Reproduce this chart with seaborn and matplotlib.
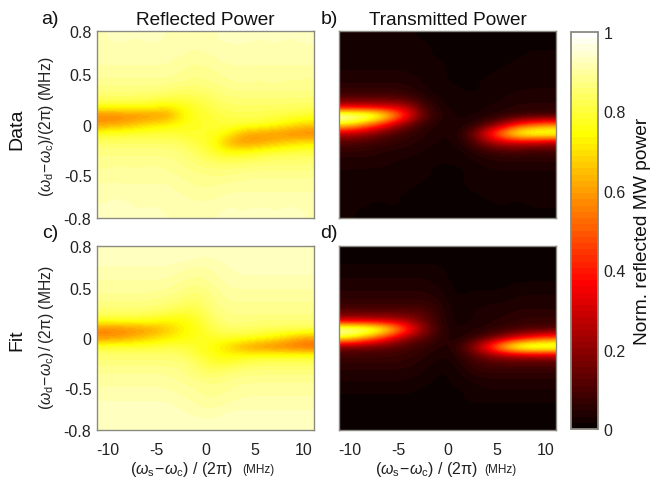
import numpy as np
import pandas as pd
import matplotlib
matplotlib.use("Agg")
import matplotlib.pyplot as plt
import seaborn as sns

sns.set_theme(style="white")
plt.rcParams['font.family'] = ['Liberation Sans', 'DejaVu Sans']
plt.rcParams['mathtext.fontset'] = 'custom'
plt.rcParams['mathtext.rm'] = 'Liberation Sans'
plt.rcParams['mathtext.it'] = 'Liberation Sans:italic'
plt.rcParams['mathtext.bf'] = 'Liberation Sans:bold'

# detuning of each column centre (MHz) and of each row centre (MHz)
x_centres = [-10.3, -8.7, -7.1, -5.55, -3.96, -2.38, -0.79, 0.79, 2.38, 3.96, 5.55, 7.1, 8.7, 10.3]
y_centres = [0.886, 0.797, 0.709, 0.620, 0.531, 0.443, 0.354, 0.266, 0.177, 0.089, 0.0,
             -0.089, -0.177, -0.266, -0.354, -0.443, -0.531, -0.620, -0.709, -0.797, -0.886]

# values in percent of the normalised power
refl_data = [
    [92, 93, 92, 93, 92, 92, 91, 92, 93, 93, 92, 93, 92, 93],
    [92, 92, 92, 92, 92, 91, 91, 92, 92, 92, 92, 92, 92, 92],
    [91, 92, 91, 92, 91, 91, 90, 91, 92, 92, 92, 91, 92, 92],
    [91, 91, 91, 91, 91, 90, 89, 90, 91, 91, 91, 91, 91, 91],
    [90, 90, 90, 90, 90, 89, 88, 89, 90, 90, 90, 90, 90, 90],
    [89, 89, 89, 89, 89, 88, 87, 88, 89, 90, 89, 90, 89, 89],
    [87, 87, 87, 87, 86, 85, 85, 86, 88, 88, 88, 88, 88, 88],
    [84, 84, 84, 83, 82, 81, 82, 84, 86, 86, 86, 86, 86, 86],
    [77, 77, 77, 76, 72, 76, 79, 82, 84, 84, 84, 84, 84, 83],
    [55, 55, 56, 58, 58, 72, 78, 80, 82, 82, 82, 81, 80, 79],
    [60, 62, 66, 70, 73, 76, 78, 79, 80, 80, 79, 76, 72, 68],
    [78, 79, 80, 80, 80, 79, 78, 78, 74, 62, 60, 58, 56, 54],
    [84, 84, 84, 84, 84, 83, 80, 77, 62, 58, 60, 64, 68, 70],
    [87, 87, 87, 87, 87, 86, 83, 78, 74, 74, 77, 79, 80, 81],
    [88, 88, 88, 88, 88, 87, 85, 83, 82, 83, 84, 85, 85, 85],
    [89, 90, 89, 90, 89, 88, 87, 86, 86, 87, 87, 87, 87, 87],
    [90, 90, 90, 90, 90, 89, 88, 88, 88, 89, 89, 89, 89, 89],
    [91, 91, 91, 91, 91, 90, 89, 89, 90, 90, 90, 90, 90, 90],
    [92, 92, 91, 92, 91, 91, 90, 90, 91, 91, 91, 91, 91, 91],
    [92, 93, 92, 92, 92, 91, 91, 91, 92, 92, 92, 92, 92, 92],
    [93, 93, 92, 93, 92, 92, 91, 92, 93, 92, 93, 92, 93, 92],
]
trans_data = [
    [2, 2, 2, 2, 2, 1, 1, 1, 1, 1, 1, 1, 1, 1],
    [2, 2, 2, 2, 2, 2, 1, 1, 1, 1, 1, 1, 1, 1],
    [2, 3, 3, 3, 2, 2, 1, 1, 1, 1, 1, 1, 2, 2],
    [3, 3, 3, 3, 3, 2, 2, 1, 1, 1, 1, 2, 2, 2],
    [3, 3, 3, 3, 3, 2, 2, 1, 1, 1, 2, 2, 2, 2],
    [4, 4, 4, 4, 4, 3, 2, 1, 1, 2, 2, 2, 3, 3],
    [6, 6, 6, 6, 5, 3, 2, 2, 1, 2, 2, 3, 3, 3],
    [11, 11, 11, 11, 9, 5, 3, 2, 2, 2, 3, 4, 4, 4],
    [30, 30, 29, 29, 24, 9, 4, 2, 2, 3, 4, 5, 5, 5],
    [99, 96, 88, 66, 38, 13, 5, 3, 3, 4, 5, 7, 7, 8],
    [72, 60, 45, 28, 14, 6, 4, 3, 4, 10, 22, 40, 50, 55],
    [26, 22, 16, 10, 7, 5, 3, 3, 12, 36, 62, 82, 88, 88],
    [11, 10, 8, 7, 5, 4, 3, 3, 8, 20, 28, 30, 28, 25],
    [6, 6, 5, 4, 4, 3, 2, 2, 4, 7, 9, 9, 8, 8],
    [4, 4, 4, 3, 3, 2, 2, 2, 3, 4, 5, 5, 5, 5],
    [3, 3, 3, 3, 2, 2, 1, 1, 2, 3, 3, 3, 3, 3],
    [3, 3, 2, 2, 2, 2, 1, 1, 2, 2, 3, 3, 3, 3],
    [2, 2, 2, 2, 2, 1, 1, 1, 2, 2, 2, 2, 2, 2],
    [2, 2, 2, 2, 1, 1, 1, 1, 1, 2, 2, 2, 2, 2],
    [2, 2, 1, 2, 1, 1, 1, 1, 1, 1, 2, 1, 2, 2],
    [2, 1, 1, 1, 1, 1, 1, 1, 1, 1, 1, 1, 1, 1],
]
refl_fit = [
    [93, 93, 93, 93, 93, 93, 93, 93, 93, 93, 93, 93, 93, 93],
    [93, 93, 93, 93, 93, 93, 92, 92, 93, 93, 93, 93, 93, 93],
    [92, 92, 92, 92, 92, 91, 90, 91, 92, 93, 93, 93, 93, 93],
    [91, 91, 91, 91, 91, 90, 89, 90, 92, 92, 92, 92, 92, 92],
    [90, 90, 90, 90, 90, 88, 87, 89, 91, 91, 91, 91, 91, 91],
    [89, 89, 89, 89, 88, 87, 85, 88, 90, 90, 90, 90, 90, 90],
    [87, 87, 87, 87, 86, 84, 83, 87, 89, 89, 89, 89, 89, 89],
    [85, 85, 85, 84, 83, 80, 81, 86, 88, 88, 88, 88, 88, 88],
    [78, 78, 78, 77, 74, 74, 78, 84, 87, 87, 86, 86, 86, 86],
    [55, 55, 57, 60, 65, 73, 76, 82, 84, 84, 83, 83, 83, 83],
    [58, 60, 64, 68, 72, 74, 77, 78, 79, 78, 76, 72, 66, 60],
    [80, 80, 80, 80, 81, 81, 78, 75, 68, 60, 56, 54, 52, 50],
    [85, 85, 85, 85, 85, 84, 80, 76, 74, 76, 77, 78, 78, 78],
    [87, 87, 87, 87, 87, 87, 84, 80, 80, 83, 84, 84, 84, 84],
    [89, 89, 89, 89, 89, 88, 85, 84, 86, 87, 87, 87, 87, 87],
    [90, 90, 90, 90, 90, 89, 88, 87, 88, 89, 89, 89, 89, 89],
    [91, 91, 91, 91, 91, 90, 89, 88, 89, 90, 90, 90, 90, 90],
    [92, 92, 92, 92, 92, 91, 90, 89, 90, 91, 91, 91, 91, 91],
    [93, 93, 93, 93, 93, 92, 91, 90, 92, 92, 92, 92, 92, 92],
    [93, 93, 93, 93, 93, 93, 92, 92, 93, 93, 93, 93, 93, 93],
    [93, 93, 93, 93, 93, 93, 93, 93, 93, 93, 93, 93, 93, 93],
]
trans_fit = [
    [1, 1, 1, 1, 1, 1, 0, 0, 0, 0, 0, 0, 0, 0],
    [1, 1, 1, 1, 1, 1, 1, 0, 0, 0, 0, 0, 0, 0],
    [2, 2, 2, 2, 2, 2, 2, 1, 0, 0, 0, 0, 1, 1],
    [3, 3, 3, 3, 3, 3, 2, 1, 1, 1, 1, 1, 1, 1],
    [4, 4, 4, 4, 4, 4, 3, 1, 1, 1, 1, 2, 2, 2],
    [5, 5, 5, 5, 5, 5, 4, 1, 2, 2, 2, 3, 3, 3],
    [7, 7, 7, 7, 7, 7, 5, 2, 2, 3, 3, 4, 4, 4],
    [12, 12, 12, 12, 12, 11, 6, 2, 3, 4, 4, 5, 5, 5],
    [28, 28, 27, 26, 22, 14, 6, 2, 3, 4, 5, 6, 7, 7],
    [97, 95, 88, 70, 44, 20, 7, 3, 4, 5, 7, 9, 10, 10],
    [75, 62, 48, 32, 18, 12, 6, 3, 6, 12, 20, 32, 40, 48],
    [16, 15, 14, 12, 9, 7, 4, 5, 18, 40, 70, 90, 96, 94],
    [8, 8, 8, 8, 7, 5, 3, 4, 10, 17, 21, 23, 24, 24],
    [6, 6, 6, 6, 5, 4, 2, 3, 7, 9, 10, 10, 10, 10],
    [4, 4, 4, 4, 4, 3, 1, 2, 5, 6, 6, 6, 6, 6],
    [3, 3, 3, 3, 3, 2, 1, 2, 3, 4, 4, 4, 4, 4],
    [2, 2, 2, 2, 2, 1, 1, 1, 2, 3, 3, 3, 3, 3],
    [1, 1, 1, 1, 1, 1, 1, 1, 2, 2, 2, 2, 2, 2],
    [1, 1, 1, 1, 1, 1, 0, 1, 1, 1, 1, 1, 1, 1],
    [0, 0, 0, 0, 0, 0, 0, 0, 1, 1, 1, 1, 1, 1],
    [0, 0, 0, 0, 0, 0, 0, 0, 0, 0, 0, 0, 0, 0],
]

x_ticks = [-10, -5, 0, 5, 10]
x_labels = ['-10', '-5', '0', '5', '10']
y_ticks = [0.92, 0.5, 0, -0.5, -0.92]
y_labels = ['0.8', '0.5', '0', '-0.5', '-0.8']
cbar_ticks = [0, 0.2, 0.4, 0.6, 0.8, 1]
cbar_labels = ['0', '0.2', '0.4', '0.6', '0.8', '1']
x_range = (-11.1, 11.1)
y_range = (0.92, -0.92)

W, H = 652, 481
frame = '#8a8a80'
cmap = plt.get_cmap('hot', 64)


def box(l, t, r, b):
    return [l / W, 1 - b / H, (r - l) / W, (b - t) / H]


fig = plt.figure(figsize=(W / 100, H / 100), dpi=100)
ax_a = fig.add_axes(box(97, 32, 314, 219))
ax_b = fig.add_axes(box(339, 32, 556, 219))
ax_c = fig.add_axes(box(97, 247, 314, 431))
ax_d = fig.add_axes(box(339, 247, 556, 431))
cax = fig.add_axes(box(571, 33, 598, 430))


def draw(ax, values, show_x, show_y, with_cbar=False):
    arr = np.asarray(values, dtype=float) / 100
    df = pd.DataFrame(arr, index=y_centres, columns=x_centres)
    kw = dict(cbar=True, cbar_ax=cax, cbar_kws={'ticks': cbar_ticks}) if with_cbar else dict(cbar=False)
    sns.heatmap(df, ax=ax, cmap=cmap, vmin=0, vmax=1, xticklabels=False, yticklabels=False, **kw)
    ny, nx = arr.shape
    ax.collections[0].set_visible(False)
    ax.imshow(arr, cmap=cmap, vmin=0, vmax=1, extent=(0, nx, ny, 0), aspect='auto',
              interpolation='bicubic', zorder=1)
    ax.set_xlim(0, nx)
    ax.set_ylim(ny, 0)
    xpos = [(v - x_range[0]) / (x_range[1] - x_range[0]) * nx for v in x_ticks]
    ypos = [(v - y_range[0]) / (y_range[1] - y_range[0]) * ny for v in y_ticks]
    ax.set_xticks(xpos)
    ax.set_yticks(ypos)
    ax.set_xticklabels(x_labels if show_x else [])
    ax.set_yticklabels(y_labels if show_y else [])
    ax.tick_params(axis='both', which='major', direction='in', length=2.2, width=0.8, color=frame,
                   top=True, right=True, bottom=True, left=True, labelsize=11.5, labelcolor='#222222')
    ax.tick_params(axis='x', pad=9)
    ax.tick_params(axis='y', pad=4)
    ax.set_xlabel('')
    ax.set_ylabel('')
    for s in ax.spines.values():
        s.set_visible(True)
        s.set_color(frame)
        s.set_linewidth(1.0)
        s.set_zorder(5)


draw(ax_a, refl_data, False, True)
draw(ax_b, trans_data, False, False, with_cbar=True)
draw(ax_c, refl_fit, True, True)
draw(ax_d, trans_fit, True, False)

cb = ax_b.collections[0].colorbar
cb.set_ticks(cbar_ticks)
cb.set_ticklabels(cbar_labels)
cax.tick_params(direction='in', length=2.2, width=0.8, color=frame, labelsize=11.5, labelcolor='#222222', pad=4,
                right=True, left=False)
cb.outline.set_visible(True)
cb.outline.set_edgecolor(frame)
cb.outline.set_linewidth(1.3)
cb.set_label('Norm. reflected MW power', fontsize=13.8, labelpad=6, color='#111111')

ax_a.set_title('Reflected Power', fontsize=13.7, pad=5, color='#111111')
ax_b.set_title('Transmitted Power', fontsize=13.7, pad=5, color='#111111')

ylab_a = r'$(\omega_{\mathrm{d}}\!-\!\omega_{\mathrm{c}})/(2\mathrm{\pi})$ (MHz)'
ylab_c = r'$(\omega_{\mathrm{d}}\!-\!\omega_{\mathrm{c}})\,/\,(2\mathrm{\pi})$ (MHz)'
xlab = r'$(\omega_{\mathrm{s}}\!-\!\omega_{\mathrm{c}})\ /\ (2\mathrm{\pi})$'

fig.text(47 / W, 1 - 127 / H, ylab_a, rotation=90, ha='center', va='center', fontsize=11.3, color='#222222')
fig.text(47 / W, 1 - 338 / H, ylab_c, rotation=90, ha='center', va='center', fontsize=11.3, color='#222222')
for xc, mhz in ((181, 258), (426, 500)):
    fig.text(xc / W, 1 - 470 / H, xlab, ha='center', va='center', fontsize=11.5, color='#222222')
    fig.text(mhz / W, 1 - 470 / H, '(MHz)', ha='center', va='center', fontsize=8.5, color='#222222')

fig.text(17 / W, 1 - 129 / H, 'Data', rotation=90, ha='center', va='center', fontsize=14, color='#111111')
fig.text(17 / W, 1 - 340 / H, 'Fit', rotation=90, ha='center', va='center', fontsize=14, color='#111111')

for s, px, py in (('a)', 50, 20), ('b)', 329, 20), ('c)', 50, 234), ('d)', 329, 234)):
    fig.text(px / W, 1 - py / H, s, ha='center', va='center', fontsize=14, color='#111111')

fig.savefig('out.png', dpi=100, facecolor='white')
